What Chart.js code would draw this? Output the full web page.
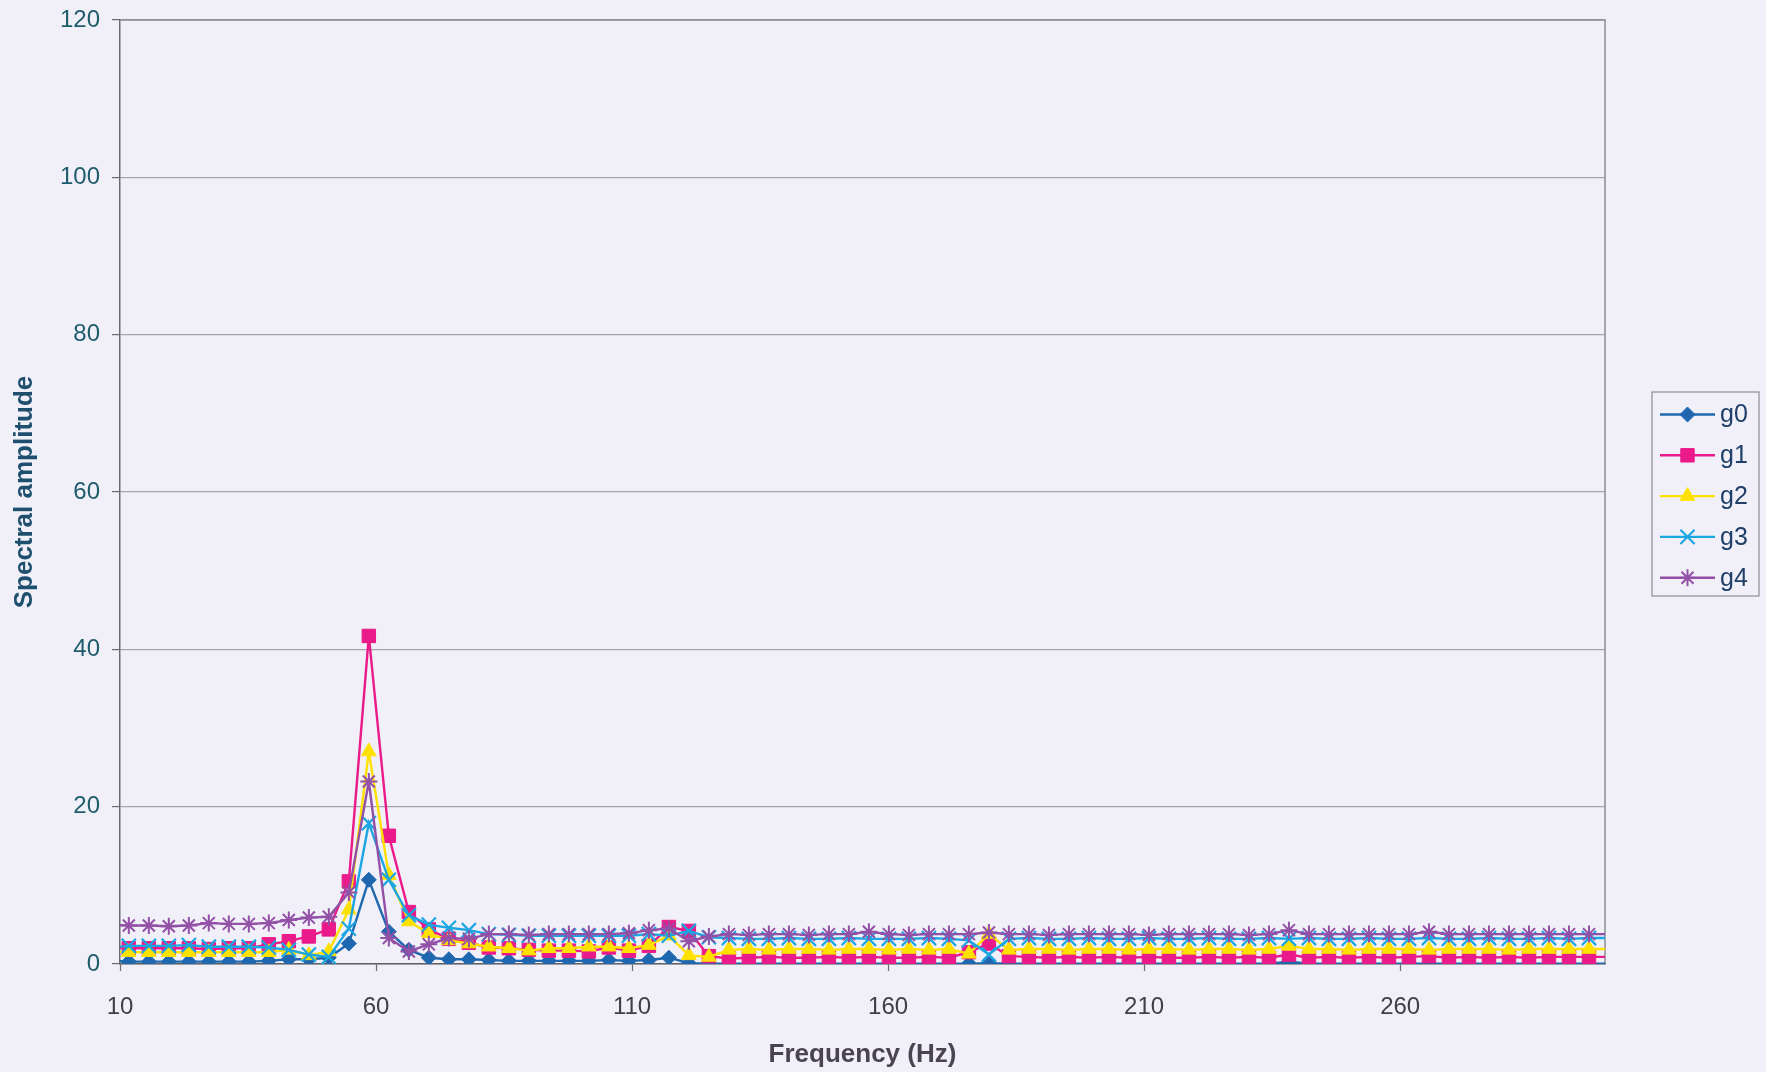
<!DOCTYPE html>
<html>
<head>
<meta charset="utf-8">
<script src="https://cdn.jsdelivr.net/npm/chart.js@4.4.1/dist/chart.umd.min.js"></script>
<style>
  html, body { margin: 0; padding: 0; background: #f1f0f8; }
  #wrap { width: 1766px; height: 1072px; }
</style>
</head>
<body>
<div id="wrap"><canvas id="c" width="1766" height="1072"></canvas></div>
<script>
// ---- data (frequency bins in Hz) ----
const freq = [7.81, 11.72, 15.63, 19.53, 23.44, 27.34, 31.25, 35.16, 39.06, 42.97,
  46.88, 50.78, 54.69, 58.59, 62.5, 66.41, 70.31, 74.22, 78.13, 82.03,
  85.94, 89.84, 93.75, 97.66, 101.56, 105.47, 109.38, 113.28, 117.19, 121.09,
  125, 128.91, 132.81, 136.72, 140.63, 144.53, 148.44, 152.34, 156.25, 160.16,
  164.06, 167.97, 171.88, 175.78, 179.69, 183.59, 187.5, 191.41, 195.31, 199.22,
  203.13, 207.03, 210.94, 214.84, 218.75, 222.66, 226.56, 230.47, 234.38, 238.28,
  242.19, 246.09, 250, 253.91, 257.81, 261.72, 265.63, 269.53, 273.44, 277.34,
  281.25, 285.16, 289.06, 292.97, 296.88, 300.78];

const g0 = [0.4, 0.3, 0.3, 0.3, 0.3, 0.3, 0.3, 0.3, 0.4, 0.6,
  0.6, 0.8, 2.6, 10.7, 4.1, 1.8, 0.8, 0.6, 0.6, 0.5,
  0.4, 0.4, 0.4, 0.4, 0.4, 0.5, 0.4, 0.5, 0.8, 0.1,
  0.05, 0.05, 0.05, 0.05, 0.05, 0.05, 0.05, 0.05, 0.05, 0.05,
  0.05, 0.05, 0.05, 0.05, 0.1, 0.05, 0.05, 0.05, 0.05, 0.05,
  0.05, 0.05, 0.05, 0.05, 0.05, 0.05, 0.05, 0.05, 0.05, 0.3,
  0.05, 0.05, 0.05, 0.05, 0.05, 0.05, 0.05, 0.05, 0.05, 0.05,
  0.05, 0.05, 0.05, 0.05, 0.05, 0.05];

const g1 = [2.1, 2.0, 2.0, 2.0, 2.0, 1.9, 2.0, 2.0, 2.5, 2.9,
  3.5, 4.4, 10.5, 41.7, 16.3, 6.6, 4.4, 3.2, 2.7, 2.1,
  2.0, 1.8, 1.7, 1.7, 1.6, 2.1, 1.7, 2.3, 4.7, 4.2,
  1.0, 0.7, 0.8, 0.9, 0.8, 0.8, 0.9, 0.8, 0.9, 0.8,
  0.8, 0.9, 0.8, 1.5, 2.6, 1.0, 0.9, 0.8, 0.9, 0.8,
  0.9, 0.8, 0.9, 0.8, 0.8, 0.9, 0.8, 0.9, 0.8, 1.2,
  0.8, 0.9, 0.8, 0.9, 0.8, 0.9, 1.0, 0.8, 0.9, 0.8,
  0.9, 0.8, 0.9, 0.9, 0.9, 0.9];

const g2 = [1.6, 1.5, 1.5, 1.5, 1.5, 1.5, 1.5, 1.5, 1.5, 1.8,
  1.1, 1.6, 6.9, 27.0, 11.3, 5.4, 3.9, 3.0, 2.6, 2.2,
  2.0, 1.7, 2.0, 2.0, 2.2, 2.2, 2.0, 2.4, 3.6, 1.1,
  0.9, 1.8, 1.9, 1.8, 1.9, 1.9, 1.8, 1.9, 1.9, 1.8,
  1.9, 1.8, 1.9, 1.3, 3.8, 1.8, 1.9, 1.9, 1.8, 1.9,
  1.9, 1.8, 1.9, 1.9, 1.8, 1.9, 1.9, 1.8, 1.9, 2.3,
  1.9, 1.9, 1.8, 1.9, 1.9, 1.9, 1.8, 1.9, 1.9, 1.9,
  1.8, 1.9, 1.9, 1.9, 1.9, 1.9];

const g3 = [2.1, 2.3, 2.3, 2.3, 2.4, 2.2, 2.2, 2.2, 2.1, 1.8,
  1.2, 0.9, 4.5, 17.9, 10.7, 6.2, 5.0, 4.6, 4.3, 3.8,
  3.7, 3.6, 3.6, 3.6, 3.6, 3.6, 3.6, 3.8, 3.6, 4.2,
  3.4, 3.3, 3.2, 3.2, 3.3, 3.2, 3.2, 3.3, 3.2, 3.2,
  3.2, 3.3, 3.2, 3.0, 1.2, 3.2, 3.3, 3.2, 3.2, 3.3,
  3.2, 3.2, 3.3, 3.2, 3.2, 3.3, 3.2, 3.2, 3.3, 3.2,
  3.3, 3.2, 3.2, 3.3, 3.2, 3.2, 3.3, 3.2, 3.2, 3.3,
  3.2, 3.2, 3.3, 3.2, 3.3, 3.3];

const g4 = [5.0, 4.9, 4.9, 4.8, 4.9, 5.2, 5.1, 5.1, 5.2, 5.6,
  5.9, 6.0, 9.1, 23.2, 3.3, 1.6, 2.5, 3.3, 3.2, 3.8,
  3.8, 3.7, 3.8, 3.8, 3.8, 3.8, 3.9, 4.3, 4.5, 2.9,
  3.5, 3.8, 3.7, 3.8, 3.8, 3.7, 3.8, 3.8, 4.1, 3.8,
  3.7, 3.8, 3.8, 3.8, 4.0, 3.8, 3.8, 3.7, 3.8, 3.8,
  3.8, 3.8, 3.7, 3.8, 3.8, 3.8, 3.8, 3.7, 3.8, 4.3,
  3.8, 3.8, 3.8, 3.8, 3.8, 3.8, 4.1, 3.8, 3.8, 3.8,
  3.8, 3.8, 3.8, 3.8, 3.8, 3.8];

const seriesNames = ['g0', 'g1', 'g2', 'g3', 'g4'];
const seriesValues = [g0, g1, g2, g3, g4];
const xTickValues = [10, 60, 110, 160, 210, 260];
const yTickValues = [0, 20, 40, 60, 80, 100, 120];
const xLabel = 'Frequency (Hz)';
const yLabel = 'Spectral amplitude';

// ---- styles ----
const FONT = "'Liberation Sans', Arial, Helvetica, sans-serif";
const styles = [
  { color: '#1f68b0', point: 'rectRot',  r: 7.5, bw: 1 },
  { color: '#ea1a8a', point: 'rect',     r: 9.5, bw: 1 },
  { color: '#ffe100', point: 'triangle', r: 8.5, bw: 1 },
  { color: '#1ba6e2', point: 'crossRot', r: 10,  bw: 2.2 },
  { color: '#9250a6', point: 'star',     r: 8.5, bw: 2 }
];
const X_MIN = 10, X_MAX = 300;

Chart.defaults.font.family = FONT;

const datasets = seriesNames.map((name, i) => {
  const st = styles[i];
  return {
    label: name,
    data: freq.map((f, j) => ({ x: f, y: seriesValues[i][j] })),
    borderColor: st.color,
    backgroundColor: st.color,
    borderWidth: 2.4,
    pointStyle: st.point,
    pointBackgroundColor: st.color,
    pointBorderColor: st.color,
    pointBorderWidth: st.bw,
    pointRadius: (c) => (c.raw && (c.raw.x < X_MIN || c.raw.x > X_MAX)) ? 0 : st.r,
    pointHoverRadius: st.r,
    tension: 0,
    order: seriesNames.length - i
  };
});

const bgPlugin = {
  id: 'bg',
  beforeDraw(chart) {
    const ctx = chart.ctx;
    ctx.save();
    ctx.fillStyle = '#f1f0f8';
    ctx.fillRect(0, 0, chart.width, chart.height);
    ctx.restore();
  },
  beforeDatasetsDraw(chart) {
    const { ctx, chartArea: a } = chart;
    ctx.save();
    ctx.strokeStyle = '#8c8c94';
    ctx.lineWidth = 1.5;
    ctx.beginPath();
    ctx.moveTo(a.left, a.top);
    ctx.lineTo(a.right, a.top);
    ctx.lineTo(a.right, a.bottom);
    ctx.stroke();
    ctx.restore();
  }
};

function drawMarker(ctx, st, x, y) {
  const opts = { pointStyle: st.point, radius: st.r, rotation: 0, borderWidth: st.bw };
  ctx.fillStyle = st.color;
  ctx.strokeStyle = st.color;
  ctx.lineWidth = st.bw;
  if (Chart.helpers && Chart.helpers.drawPoint) {
    Chart.helpers.drawPoint(ctx, opts, x, y);
  }
}

const legendPlugin = {
  id: 'sideLegend',
  afterDraw(chart) {
    const ctx = chart.ctx;
    const a = chart.chartArea;
    const bx = a.right + 47, by = 392, bw = 107, bh = 204;
    ctx.save();
    ctx.strokeStyle = '#8c8c94';
    ctx.lineWidth = 1.2;
    ctx.strokeRect(bx, by, bw, bh);
    ctx.font = '25px ' + FONT;
    ctx.textBaseline = 'middle';
    ctx.textAlign = 'left';
    seriesNames.forEach((name, i) => {
      const st = styles[i];
      const y = by + 22.5 + i * 40.8;
      ctx.strokeStyle = st.color;
      ctx.lineWidth = 2.4;
      ctx.beginPath();
      ctx.moveTo(bx + 8, y);
      ctx.lineTo(bx + 63, y);
      ctx.stroke();
      drawMarker(ctx, st, bx + 35.5, y);
      ctx.fillStyle = '#20406a';
      ctx.fillText(name, bx + 68, y + 1);
    });
    ctx.restore();
  }
};

new Chart(document.getElementById('c'), {
  type: 'line',
  data: { datasets },
  plugins: [bgPlugin, legendPlugin],
  options: {
    responsive: false,
    devicePixelRatio: 1,
    animation: false,
    layout: { padding: { top: 20, right: 161, left: 0, bottom: 0 } },
    plugins: { legend: { display: false }, tooltip: { enabled: false } },
    scales: {
      x: {
        type: 'linear',
        min: X_MIN,
        max: X_MAX,
        afterBuildTicks: (s) => { s.ticks = xTickValues.map(v => ({ value: v })); },
        afterFit: (s) => { s.height = 108; s.paddingLeft = 0; s.paddingRight = 0; },
        ticks: { color: '#3f3f46', font: { size: 24 }, padding: 22, maxRotation: 0, autoSkip: false },
        grid: { drawOnChartArea: false, drawTicks: true, tickLength: 7, tickColor: '#6a6a70', tickWidth: 1.2 },
        border: { color: '#5f5f66', width: 1.5 },
        title: { display: true, text: xLabel, color: '#4a4452', font: { size: 26, weight: 'bold' }, padding: { top: 0, bottom: 2 } }
      },
      y: {
        min: 0,
        max: 120,
        afterBuildTicks: (s) => { s.ticks = yTickValues.map(v => ({ value: v })); },
        afterFit: (s) => { s.width = 120; s.paddingTop = 0; s.paddingBottom = 0; },
        ticks: { color: '#1f5c6b', font: { size: 24 }, padding: 12 },
        grid: { color: '#a4a4aa', lineWidth: 1.2, tickLength: 8, tickColor: '#6a6a70' },
        border: { color: '#6a6a70', width: 1.5 },
        title: { display: true, text: yLabel, color: '#1e4f6e', font: { size: 26, weight: 'bold' }, padding: { top: 9, bottom: 0 } }
      }
    }
  }
});
</script>
</body>
</html>
